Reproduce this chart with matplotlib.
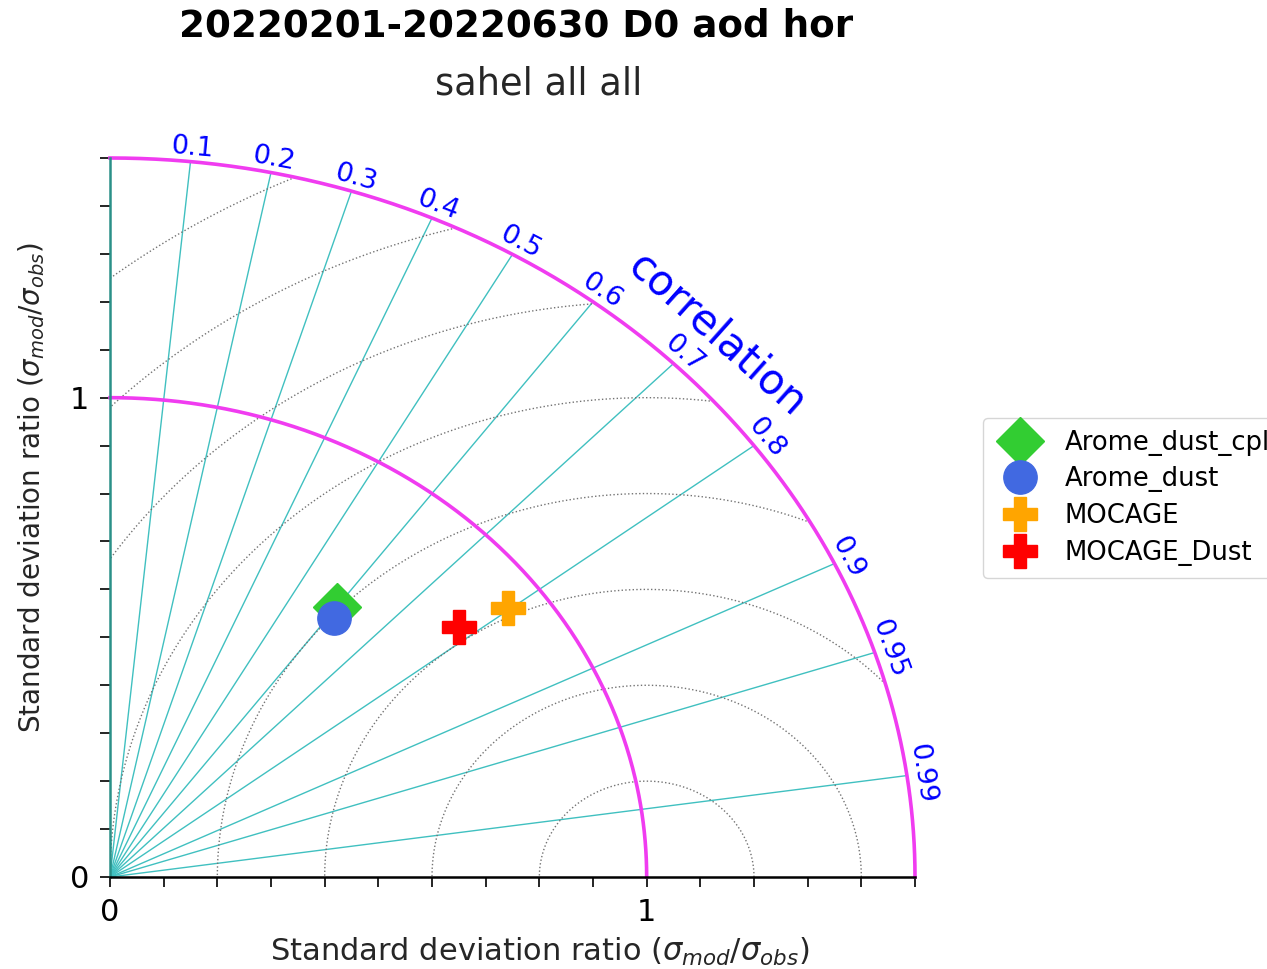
import numpy as np
import matplotlib
matplotlib.use('Agg')
import matplotlib.pyplot as plt

# model names, std ratio (sigma_mod/sigma_obs) and correlation
models = ['Arome_dust_cpl', 'Arome_dust', 'MOCAGE', 'MOCAGE_Dust']
std_ratio = [0.705, 0.682, 0.930, 0.834]
corr = [0.600, 0.612, 0.797, 0.780]
markers = ['D', 'o', 'P', 'P']
colors = ['limegreen', 'royalblue', 'orange', 'red']

corr_ticks = [0.1, 0.2, 0.3, 0.4, 0.5, 0.6, 0.7, 0.8, 0.9, 0.95, 0.99]
corr_labels = ['0.1', '0.2', '0.3', '0.4', '0.5', '0.6', '0.7', '0.8', '0.9', '0.95', '0.99']
rms_levels = [0.2, 0.4, 0.6, 0.8, 1.0, 1.2, 1.4, 1.6]
std_max = 1.5

W, H = 1267, 969
fig = plt.figure(figsize=(W / 100, H / 100), dpi=100)
ax = fig.add_axes([110 / W, 1 - 877 / H, 805 / W, 719 / H])
ax.set_xlim(0, std_max)
ax.set_ylim(0, std_max)

# pixels per data unit (axes are not equal aspect)
sx = 805 / std_max
sy = 719 / std_max

# correlation rays
for c in corr_ticks:
    th = np.arccos(c)
    ax.plot([0, std_max * np.cos(th)], [0, std_max * np.sin(th)],
            color='#40c0c0', lw=1.0, zorder=1)

# centred rms circles, clipped to the outer arc
t = np.linspace(0, np.pi, 2000)
for r in rms_levels:
    xs = 1 + r * np.cos(t)
    ys = r * np.sin(t)
    inside = (xs ** 2 + ys ** 2 <= std_max ** 2) & (xs >= 0)
    xs = np.where(inside, xs, np.nan)
    ys = np.where(inside, ys, np.nan)
    ax.plot(xs, ys, color='0.45', ls=':', lw=1.0, zorder=1)

# std arcs
a = np.linspace(0, np.pi / 2, 500)
for r in [1.0, std_max]:
    ax.plot(r * np.cos(a), r * np.sin(a), color='#f03cf0', lw=2.6,
            zorder=2, clip_on=False)

# correlation labels
for c, lab in zip(corr_ticks, corr_labels):
    th = np.arccos(c)
    rot = np.degrees(np.arctan2(-sy * np.cos(th), sx * np.sin(th)))
    ax.text(1.528 * np.cos(th), 1.528 * np.sin(th), lab, color='blue',
            fontsize=19.5, rotation=rot, ha='center', va='center',
            rotation_mode='anchor', clip_on=False)

th = np.pi / 4
rot = np.degrees(np.arctan2(-sy * np.cos(th), sx * np.sin(th)))
ax.text(1.6 * np.cos(th), 1.6 * np.sin(th), 'correlation', color='blue',
        fontsize=30, rotation=rot, ha='center', va='center',
        rotation_mode='anchor', clip_on=False)

# model points
for name, s, c, m, col in zip(models, std_ratio, corr, markers, colors):
    th = np.arccos(c)
    ax.plot(s * np.cos(th), s * np.sin(th), marker=m, color=col,
            markersize=24, ls='none', label=name, zorder=5)

# axes styling
for side in ['top', 'right']:
    ax.spines[side].set_visible(False)
ax.spines['bottom'].set_linewidth(1.8)
ax.spines['left'].set_linewidth(1.8)
ax.spines['left'].set_color('#2a9088')
ax.spines['bottom'].set_bounds(0, std_max)
ax.spines['left'].set_bounds(0, std_max)

ax.set_xticks([0, 1])
ax.set_xticklabels(['0', '1'])
ax.set_yticks([0, 1])
ax.set_yticklabels(['0', '1'])
ax.set_xticks(np.arange(0, 1.51, 0.1), minor=True)
ax.set_yticks(np.arange(0, 1.51, 0.1), minor=True)
ax.tick_params(which='both', length=7, width=1.2, labelsize=22, pad=8)

lab = r'Standard deviation ratio ($\sigma_{mod}/\sigma_{obs}$)'
ax.set_xlabel(lab, fontsize=22, color='0.15')
ax.set_ylabel(lab, fontsize=20, color='0.15')
ax.xaxis.set_label_coords(0.534, -0.082)
ax.yaxis.set_label_coords(-0.078, 0.542)

fig.text(516 / W, 1 - 26 / H, '20220201-20220630 D0 aod hor', fontsize=26.8,
         fontweight='bold', ha='center', va='center')
fig.text(539 / W, 1 - 84 / H, 'sahel all all', fontsize=26.5,
         color='0.15', ha='center', va='center')

ax.legend(loc='upper left', bbox_to_anchor=(983 / W, 1 - 418 / H),
          bbox_transform=fig.transFigure, borderaxespad=0, fontsize=18.6,
          labelspacing=0.42, handletextpad=0.7, borderpad=0.45)

fig.savefig('out.png', dpi=100)
